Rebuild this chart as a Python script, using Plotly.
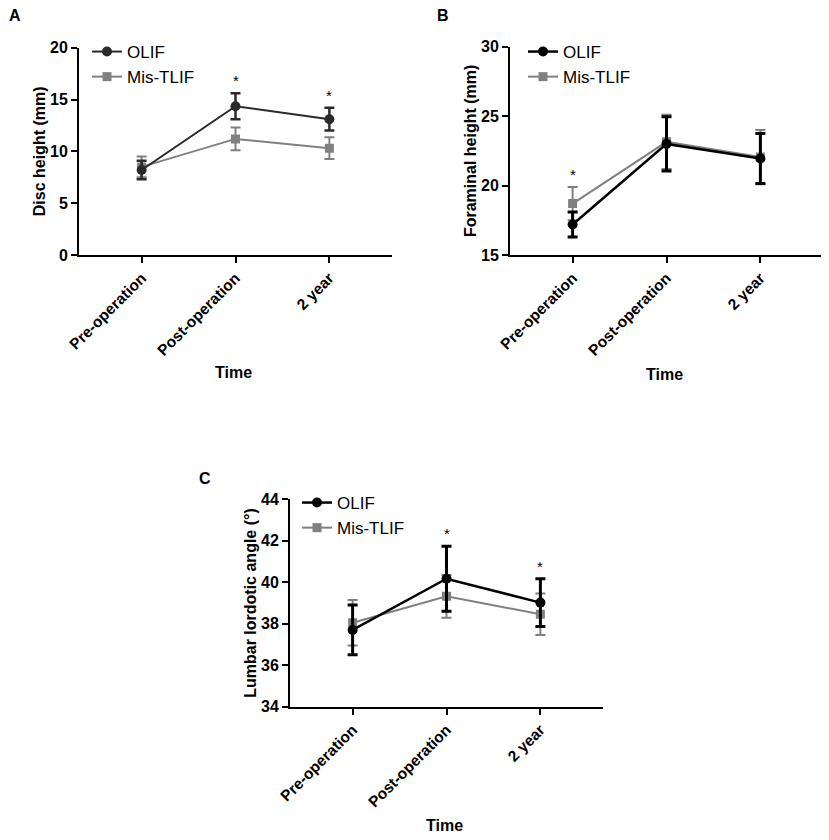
import plotly.graph_objects as go

W, H = 829, 840
OFF = 8  # the page body has an 8px margin

times = ["Pre-operation", "Post-operation", "2 year"]

# A: disc height (mm)
disc_olif = [8.2, 14.35, 13.1]
disc_olif_err = [0.9, 1.25, 1.1]
disc_tlif = [8.5, 11.2, 10.3]
disc_tlif_err = [1.0, 1.1, 1.05]

# B: foraminal height (mm)
foram_olif = [17.2, 23.0, 21.95]
foram_olif_err = [0.9, 1.95, 1.8]
foram_tlif = [18.7, 23.15, 22.05]
foram_tlif_err = [1.2, 1.95, 1.95]

# C: lumbar lordotic angle (deg)
lla_olif = [37.7, 40.17, 39.02]
lla_olif_err = [1.2, 1.57, 1.15]
lla_tlif = [38.05, 39.32, 38.46]
lla_tlif_err = [1.1, 1.03, 1.0]

# where the asterisks go: (series, index)
stars_a = [("olif", 1), ("olif", 2)]
stars_b = [("tlif", 0)]
stars_c = [("olif", 1), ("olif", 2)]

GRAY = "#808080"
FONT = "Liberation Sans, Arial, sans-serif"


def px_x(v):
    return (v - OFF) / (W - OFF)


def px_y(v):
    return 1 - (v - OFF) / (H - OFF)


fig = go.Figure()


def add_panel(n, olif, olif_err, tlif, tlif_err, stars, yrange, dtick, ytitle,
              box, olif_color, lw_olif, leg_xy, letter, letter_xy, time_y):
    xa = "x" if n == 1 else f"x{n}"
    ya = "y" if n == 1 else f"y{n}"
    leg = "legend" if n == 1 else f"legend{n}"

    fig.add_trace(go.Scatter(
        x=times, y=tlif, name="Mis-TLIF", mode="lines+markers",
        line=dict(color=GRAY, width=2),
        marker=dict(symbol="square", size=9, color=GRAY),
        error_y=dict(type="data", array=tlif_err, color=GRAY, thickness=2, width=5),
        xaxis=xa, yaxis=ya, legend=leg))
    fig.add_trace(go.Scatter(
        x=times, y=olif, name="OLIF", mode="lines+markers",
        line=dict(color=olif_color, width=lw_olif),
        marker=dict(symbol="circle", size=10, color=olif_color),
        error_y=dict(type="data", array=olif_err, color=olif_color,
                     thickness=lw_olif + 0.5, width=5),
        xaxis=xa, yaxis=ya, legend=leg))

    x0, x1, y0, y1 = box
    axis_common = dict(
        showline=True, linecolor="black", linewidth=2, ticks="outside",
        tickcolor="black", tickwidth=2, ticklen=6, showgrid=False, zeroline=False,
        automargin=False,
        tickfont=dict(family=FONT, size=16, color="black", weight="bold"))
    fig.update_layout(**{
        ("xaxis" if n == 1 else f"xaxis{n}"): dict(
            axis_common, domain=[px_x(x0), px_x(x1)], anchor=ya,
            range=[-0.667, 2.667], tickangle=-45,
            tickfont=dict(family=FONT, size=15.5, color="black", weight="bold")),
        ("yaxis" if n == 1 else f"yaxis{n}"): dict(
            axis_common, domain=[px_y(y1), px_y(y0)], anchor=xa,
            range=yrange, dtick=dtick,
            title=dict(text=ytitle, standoff=0,
                       font=dict(family=FONT, size=16, color="black", weight="bold"))),
        leg: dict(x=px_x(leg_xy[0]), y=px_y(leg_xy[1]), xanchor="left", yanchor="top",
                  traceorder="reversed", bgcolor="rgba(0,0,0,0)",
                  font=dict(family=FONT, size=17, color="black"),
                  tracegroupgap=0, itemwidth=30),
    })

    for series, i in stars:
        vals, errs = (olif, olif_err) if series == "olif" else (tlif, tlif_err)
        fig.add_annotation(x=times[i], y=vals[i] + errs[i], xref=xa, yref=ya,
                           text="*", showarrow=False, yanchor="bottom", yshift=2,
                           font=dict(family=FONT, size=15, color="black"))

    fig.add_annotation(x=px_x(letter_xy[0]), y=px_y(letter_xy[1]), xref="paper", yref="paper",
                       text="<b>" + letter + "</b>", showarrow=False,
                       xanchor="center", yanchor="middle",
                       font=dict(family=FONT, size=16, color="black"))
    fig.add_annotation(x=px_x((x0 + x1) / 2 - 2), y=px_y(time_y), xref="paper", yref="paper",
                       text="<b>Time</b>", showarrow=False,
                       xanchor="center", yanchor="middle",
                       font=dict(family=FONT, size=16, color="black"))


add_panel(1, disc_olif, disc_olif_err, disc_tlif, disc_tlif_err, stars_a,
          [0, 20], 5, "Disc height (mm)", (79, 392, 47.7, 255), "#2a2a2a", 2,
          (87, 34), "A", (15, 15), 372)
add_panel(2, foram_olif, foram_olif_err, foram_tlif, foram_tlif_err, stars_b,
          [15, 30], 5, "Foraminal height (mm)", (510, 823, 46.7, 255), "black", 2.5,
          (523, 34), "B", (443, 15), 375)
add_panel(3, lla_olif, lla_olif_err, lla_tlif, lla_tlif_err, stars_c,
          [34, 44], 2, "Lumbar lordotic angle (°)", (290, 603, 499.3, 706.7), "black", 2.5,
          (297, 485), "C", (205, 478), 825)

fig.update_layout(
    width=W - OFF, height=H - OFF, margin=dict(l=0, r=0, t=0, b=0),
    paper_bgcolor="white", plot_bgcolor="white",
    font=dict(family=FONT, color="black"),
)

fig.write_html("out.html")
